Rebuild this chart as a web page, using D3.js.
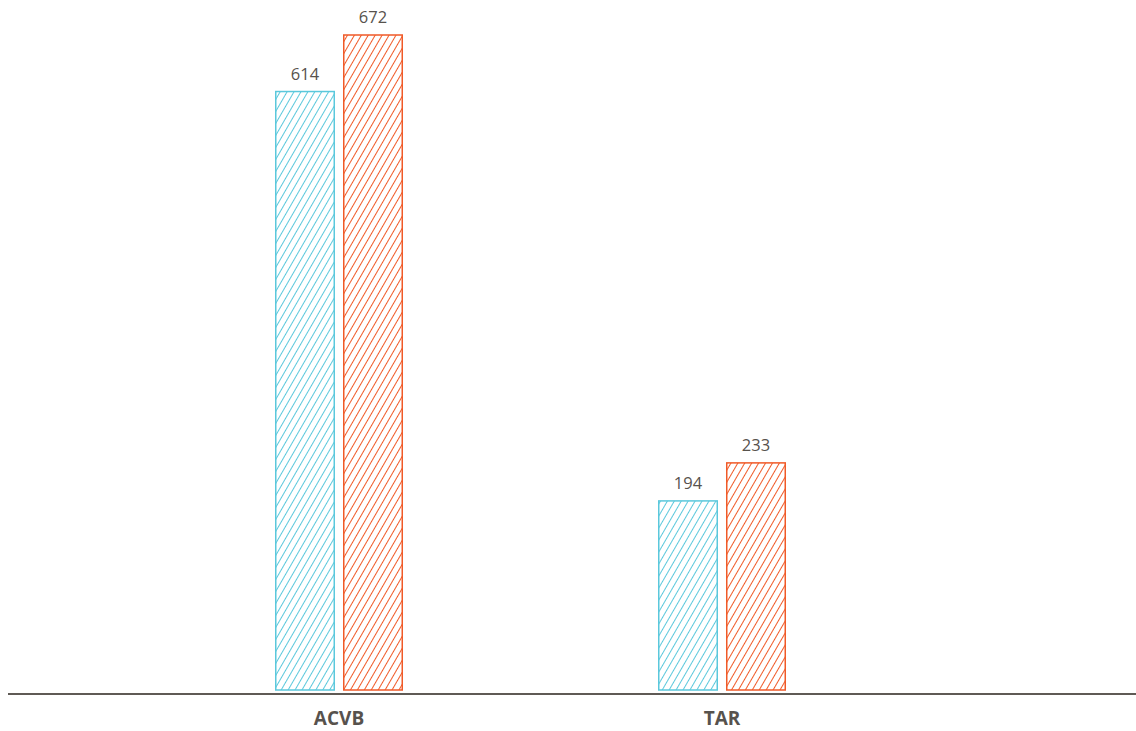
<!DOCTYPE html>
<html>
<head>
<meta charset="utf-8">
<script src="https://cdn.jsdelivr.net/npm/d3@7"></script>
<style>
  body { margin: 0; background: #fff; }
  svg { display: block; }
</style>
</head>
<body>
<script>
var categories = ["ACVB", "TAR"];
var series = ["a", "b"];
var valuesA = [614, 194];
var valuesB = [672, 233];
var colors = ["#5bc8dc", "#f05a28"];

let chart = function() {
    let w = 1136;
    let h = 731;
    let base = 690;

    let svg = d3.select("body")
        .append("svg")
        .attr("width", w)
        .attr("height", h);

    // hatch patterns, one per series
    let defs = svg.append("defs");
    colors.forEach(function(c, i) {
        let p = defs.append("pattern")
            .attr("id", "hatch" + i)
            .attr("patternUnits", "userSpaceOnUse")
            .attr("width", 6)
            .attr("height", 6)
            .attr("patternTransform", "rotate(30)");
        p.append("line")
            .attr("x1", 0).attr("y1", 0)
            .attr("x2", 0).attr("y2", 6)
            .attr("stroke", c)
            .attr("stroke-width", 2);
    });

    let x = d3.scaleBand()
        .domain(categories)
        .range([147.5, 913.5]);

    let xInner = d3.scaleBand()
        .domain(series)
        .range([-64, 64])
        .paddingInner(8 / 68);

    let y = d3.scaleLinear()
        .domain([0, 672])
        .range([base, 35]);

    let rows = [];
    categories.forEach(function(cat, i) {
        rows.push({ cat: cat, s: "a", v: valuesA[i], ci: 0 });
        rows.push({ cat: cat, s: "b", v: valuesB[i], ci: 1 });
    });

    let cx = function(d) { return x(d.cat) + x.bandwidth() / 2 + xInner(d.s); };

    svg.selectAll("rect.bar")
        .data(rows)
        .enter()
        .append("rect")
        .attr("class", "bar")
        .attr("x", function(d) { return cx(d) + 0.75; })
        .attr("y", function(d) { return y(d.v); })
        .attr("width", xInner.bandwidth() - 1.5)
        .attr("height", function(d) { return base - y(d.v); })
        .attr("fill", function(d) { return "url(#hatch" + d.ci + ")"; })
        .attr("stroke", function(d) { return colors[d.ci]; })
        .attr("stroke-width", 1.5);

    // value labels
    svg.selectAll("text.val")
        .data(rows)
        .enter()
        .append("text")
        .attr("class", "val")
        .text(function(d) { return d.v; })
        .attr("x", function(d) { return cx(d) + xInner.bandwidth() / 2; })
        .attr("y", function(d) { return y(d.v) - 12; })
        .attr("text-anchor", "middle")
        .attr("font-family", "Open Sans, sans-serif")
        .attr("font-size", "16.5px")
        .attr("fill", "#57524d");

    // baseline
    svg.append("line")
        .attr("x1", 8).attr("x2", w)
        .attr("y1", 694).attr("y2", 694)
        .attr("stroke", "#5f5a55")
        .attr("stroke-width", 2);

    // category labels
    svg.selectAll("text.cat")
        .data(categories)
        .enter()
        .append("text")
        .attr("class", "cat")
        .text(function(d) { return d; })
        .attr("x", function(d) { return x(d) + x.bandwidth() / 2; })
        .attr("y", 725)
        .attr("text-anchor", "middle")
        .attr("font-family", "Open Sans, sans-serif")
        .attr("font-weight", "bold")
        .attr("font-size", "19px")
        .attr("fill", "#57524d");
}

chart();
</script>
</body>
</html>
